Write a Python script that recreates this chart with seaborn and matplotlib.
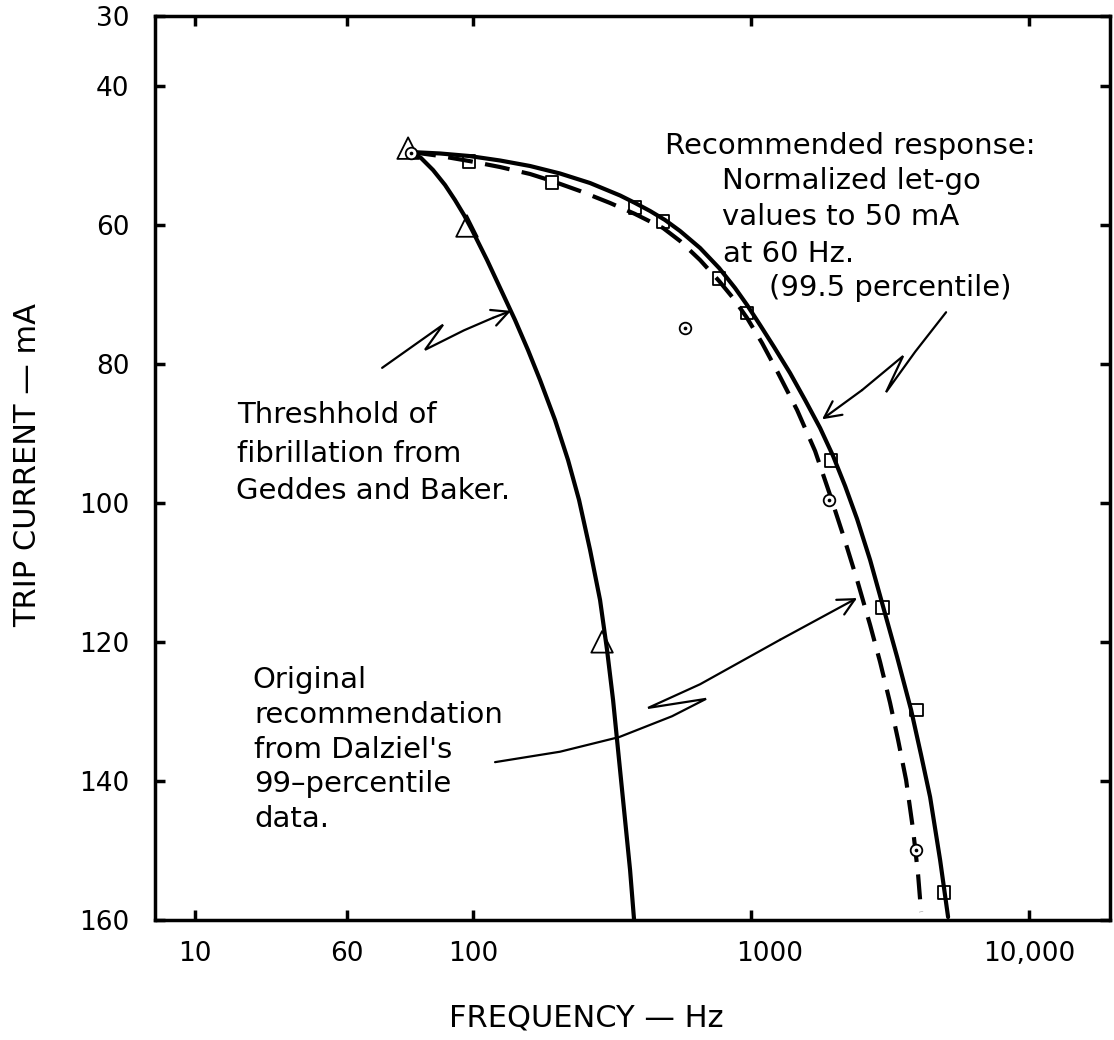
import numpy as np
import pandas as pd
import matplotlib
matplotlib.use("Agg")
import matplotlib.pyplot as plt
import matplotlib.transforms as mtransforms
from matplotlib.ticker import FixedLocator, FixedFormatter, NullLocator
import seaborn as sns

# ---------------- data ----------------
# Threshold of fibrillation (Geddes and Baker) - solid curve
fib_freq = [59.8, 65.0, 71.8, 79.3, 86.1, 92.8, 99.2, 112.3, 126.1, 141.6, 157.6, 174.2,
            197.2, 219.6, 240.6, 263.6, 286.3, 303.4, 318.9, 335.1, 352.2, 367.1, 379.5]
fib_current = [49.56, 50.42, 52.15, 54.30, 56.46, 58.62, 60.78, 65.09, 69.40, 73.72, 78.03, 82.35,
               88.10, 93.85, 99.60, 106.79, 113.98, 121.18, 128.37, 136.99, 145.62, 152.81, 160.0]

# Recommended response (normalized let-go, 99.5 percentile) - solid curve
letgo_freq = [59.84, 76.09, 96.74, 125.08, 160.34, 205.56, 263.57, 337.93, 382.63, 433.27,
              490.56, 555.46, 655.43, 767.27, 875.85, 967.38, 1077.4, 1209.6, 1380.9, 1563.9,
              1771.3, 1972.6, 2178.8, 2406.2, 2680.0, 2959.6, 3351.6, 3763.4, 4088.4, 4404.8,
              4785.5, 5112.0]
letgo_current = [49.56, 49.77, 50.13, 50.78, 51.57, 52.65, 54.02, 55.81, 56.89, 58.04,
                 59.34, 60.92, 63.36, 66.24, 69.12, 71.56, 74.44, 77.60, 81.34, 85.22,
                 89.25, 93.28, 97.59, 102.34, 108.23, 114.42, 122.18, 129.80, 136.28, 142.32,
                 151.38, 159.58]

# Original recommendation from Dalziel's 99-percentile data - dashed curve
dalziel_freq = [59.84, 76.09, 96.74, 125.08, 160.34, 192.4, 242.6, 311.0, 382.6, 482.5,
                555.5, 655.4, 767.3, 861.4, 967.4, 1095.4, 1250.8, 1463.7, 1699.4, 1923.4,
                2160.7, 2406.2, 2680.0, 2911.0, 3162.3, 3379.3, 3610.5, 3826.3, 3988.3, 4088.4]
dalziel_current = [49.56, 50.13, 50.85, 51.72, 52.72, 53.73, 55.17, 56.89, 58.47, 60.49,
                   62.36, 65.09, 68.11, 70.55, 73.43, 77.03, 81.34, 86.66, 92.56, 98.88,
                   105.07, 111.11, 117.58, 122.90, 128.79, 134.12, 139.87, 147.06, 153.53, 158.85]

# Plotted data points
square_freq = [96.7, 192.4, 382.6, 482.5, 767.1, 967.4, 1940, 2960, 3923, 4944]
square_current = [50.9, 53.9, 57.5, 59.6, 67.7, 72.7, 93.9, 115.1, 129.8, 156.1]

circle_freq = [59.8, 579, 1908, 3923]
circle_current = [49.7, 74.9, 99.6, 149.9]

triangle_freq = [58.4, 95.1, 291.1]
triangle_current = [49.0, 60.2, 120.0]

# Axis ticks (the "60" tick sits where the original drawing put it)
x_tick_values = [10, 35.2, 100, 1000, 10000]
x_tick_labels = ["10", "60", "100", "1000", "10,000"]
y_tick_values = [30, 40, 60, 80, 100, 120, 140, 160]
y_tick_labels = ["30", "40", "60", "80", "100", "120", "140", "160"]

# Annotation arrows (frequency, current) – lightning style leader lines
arrow_fib_f = [47.1, 78.0, 67.2, 92.8, 118.0, 137.0]
arrow_fib_c = [80.6, 74.4, 78.0, 75.2, 73.4, 72.4]
arrow_let_f = [5028, 3890, 3058, 3522, 2507, 1800]
arrow_let_c = [72.6, 78.3, 84.1, 78.9, 83.8, 88.0]
arrow_dal_f = [120.0, 205.5, 335.1, 519.6, 688.9, 426.1, 655.4, 1271.7, 2406]
arrow_dal_c = [137.3, 135.8, 133.7, 130.7, 128.2, 129.5, 126.1, 119.7, 113.7]

# ---------------- figure ----------------
sns.set_style("white")
plt.rcParams["font.family"] = ["DejaVu Sans"]
plt.rcParams["text.color"] = "black"

W, H = 1114, 1040
fig = plt.figure(figsize=(W / 100, H / 100), dpi=100)
fig.patch.set_facecolor("white")
ax = fig.add_axes([155 / W, 120 / H, 955 / W, 904 / H])
ax.set_xscale("log")
ax.set_xlim(7.18, 19540)
ax.set_ylim(160, 30)

# curves
sns.lineplot(x=fib_freq, y=fib_current, sort=False, estimator=None,
             color="black", linewidth=3.0, ax=ax)
sns.lineplot(x=letgo_freq, y=letgo_current, sort=False, estimator=None,
             color="black", linewidth=3.0, ax=ax)
sns.lineplot(x=dalziel_freq, y=dalziel_current, sort=False, estimator=None,
             color="black", linewidth=3.0, linestyle=(0, (6, 3)), ax=ax)

# points
sns.scatterplot(x=square_freq, y=square_current, marker="s", s=85,
                facecolor="none", edgecolor="black", linewidth=1.3, ax=ax, zorder=3)
sns.scatterplot(x=circle_freq, y=circle_current, marker="o", s=70,
                facecolor="white", edgecolor="black", linewidth=1.3, ax=ax, zorder=4)
sns.scatterplot(x=circle_freq, y=circle_current, marker="o", s=7,
                color="black", linewidth=0, ax=ax, zorder=5)
sns.scatterplot(x=triangle_freq, y=triangle_current, marker="^", s=240,
                facecolor="none", edgecolor="black", linewidth=1.3, ax=ax, zorder=3)

# leader arrows
for fx, cy in [(arrow_fib_f, arrow_fib_c), (arrow_let_f, arrow_let_c), (arrow_dal_f, arrow_dal_c)]:
    ax.plot(fx[:-1], cy[:-1], color="black", lw=1.6, solid_joinstyle="miter")
    ax.annotate("", xy=(fx[-1], cy[-1]), xytext=(fx[-2], cy[-2]),
                arrowprops=dict(arrowstyle="->,head_length=0.6,head_width=0.3",
                                lw=1.6, color="black", shrinkA=0, shrinkB=0,
                                mutation_scale=20))

# ticks
ax.xaxis.set_major_locator(FixedLocator(x_tick_values))
ax.xaxis.set_major_formatter(FixedFormatter(x_tick_labels))
ax.xaxis.set_minor_locator(NullLocator())
ax.yaxis.set_major_locator(FixedLocator(y_tick_values))
ax.yaxis.set_major_formatter(FixedFormatter(y_tick_labels))
ax.yaxis.set_minor_locator(NullLocator())
ax.tick_params(axis="both", which="major", direction="in", length=7, width=2.5,
               bottom=True, top=True, left=True, right=True,
               labelsize=19, color="black", labelcolor="black")
ax.tick_params(axis="x", pad=15)
ax.tick_params(axis="y", pad=18.5)
ax.grid(False)
for sp in ax.spines.values():
    sp.set_linewidth(2.5)
    sp.set_color("black")

# the hand-lettered "1000" sits a little right of its tick
ticks = ax.xaxis.get_major_ticks()
lab = ticks[3].label1
lab.set_transform(lab.get_transform() + mtransforms.ScaledTranslation(0.19, 0, fig.dpi_scale_trans))

# axis titles
ax.set_xlabel("FREQUENCY — Hz", fontsize=22, va="center", color="black")
ax.xaxis.set_label_coords(0.4513, -0.1084)
ax.set_ylabel("TRIP CURRENT — mA", fontsize=22, va="center", color="black")
ax.yaxis.set_label_coords(-0.133, 0.503)

# annotation texts (pixel positions of baselines)
texts = [
    ("Recommended response:", 665, 154),
    ("Normalized let-go", 722, 189),
    ("values to 50 mA", 722, 225),
    ("at 60 Hz.", 723, 262),
    ("(99.5 percentile)", 769, 296),
    ("Threshhold of", 237, 423),
    ("fibrillation from", 237, 462),
    ("Geddes and Baker.", 236, 499),
    ("Original", 252, 688),
    ("recommendation", 254, 723),
    ("from Dalziel's", 254, 758),
    ("99–percentile", 254, 792),
    ("data.", 254, 827),
]
for s, px, py in texts:
    fig.text(px / W, 1 - py / H, s, fontsize=21, ha="left", va="baseline", color="black")

fig.savefig("out.png", dpi=100, facecolor="white")
